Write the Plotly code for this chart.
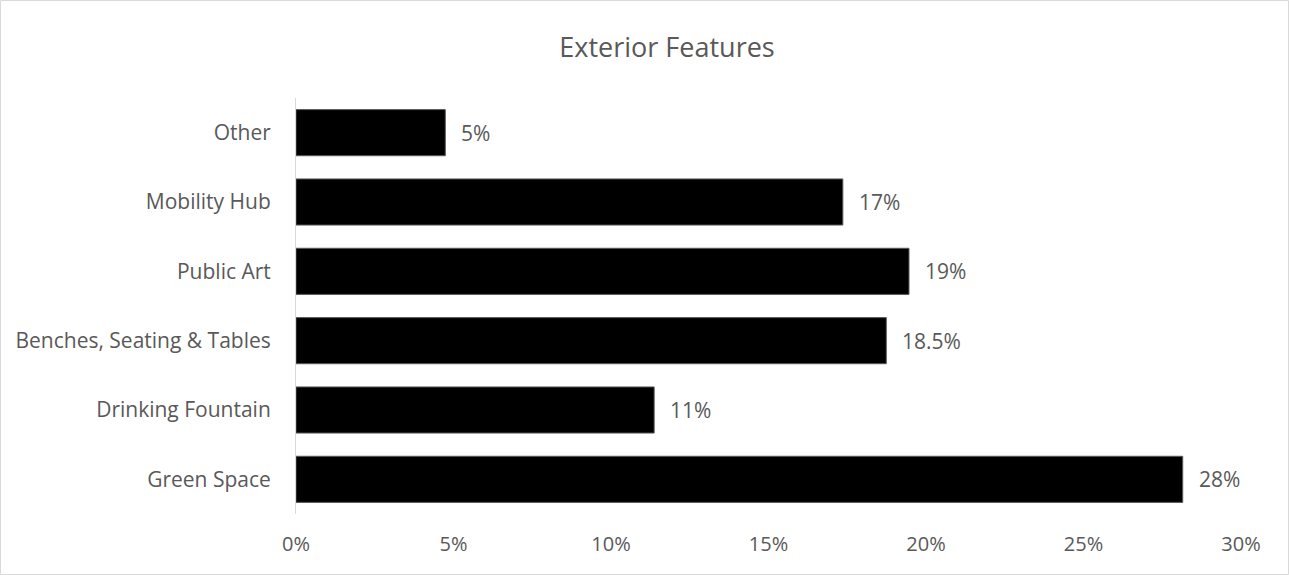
import plotly.graph_objects as go

categories = ["Green Space", "Drinking Fountain", "Benches, Seating & Tables",
              "Public Art", "Mobility Hub", "Other"]
values = [28.15, 11.37, 18.74, 19.46, 17.36, 4.74]
labels = ["28%", "11%", "18.5%", "19%", "17%", "5%"]
tick_vals = [0, 5, 10, 15, 20, 25, 30]
tick_text = ["0%", "5%", "10%", "15%", "20%", "25%", "30%"]

W, H = 1289, 575
ml, mr, mt, mb = 296, 48, 98, 61
FONT = "Open Sans"
TXT = "#595959"

fig = go.Figure(go.Bar(
    y=categories, x=values, orientation="h",
    marker=dict(color="#000000", line=dict(color="#595959", width=1)),
    hoverinfo="skip",
))

for c, v, t in zip(categories, values, labels):
    fig.add_annotation(x=v, y=c, text=t, showarrow=False, xanchor="left",
                       xshift=14, font=dict(family=FONT, size=21, color=TXT))

pw = W - ml - mr
ph = H - mt - mb
x0 = (0.5 - ml) / pw
x1 = (W - 0.5 - ml) / pw
y0 = -(H - 0.5 - mt - ph) / ph
y1 = 1 + (mt - 0.5) / ph
fig.add_shape(type="rect", xref="paper", yref="paper", x0=x0, x1=x1, y0=y0, y1=y1,
              line=dict(color="#d9d9d9", width=1), layer="above")

fig.update_layout(
    width=W, height=H,
    margin=dict(l=ml, r=mr, t=mt, b=mb),
    paper_bgcolor="white", plot_bgcolor="white",
    bargap=0.335,
    showlegend=False,
    font=dict(family=FONT, size=21, color=TXT),
    title=dict(text="Exterior Features", x=667 / W, xanchor="center", y=1 - 48 / H,
               yanchor="middle", font=dict(family=FONT, size=27, color=TXT)),
    xaxis=dict(range=[0, 30], tickvals=tick_vals, ticktext=tick_text,
               tickfont=dict(family=FONT, size=20, color=TXT),
               showgrid=False, zeroline=False, showline=False, ticks="",
               ticklabelstandoff=16, fixedrange=True),
    yaxis=dict(showgrid=False, zeroline=False, showline=True, linecolor="#d9d9d9",
               tickfont=dict(family=FONT, size=21, color=TXT),
               linewidth=1, ticks="", ticklabelstandoff=20, fixedrange=True),
)

fig.write_html("out.html")
